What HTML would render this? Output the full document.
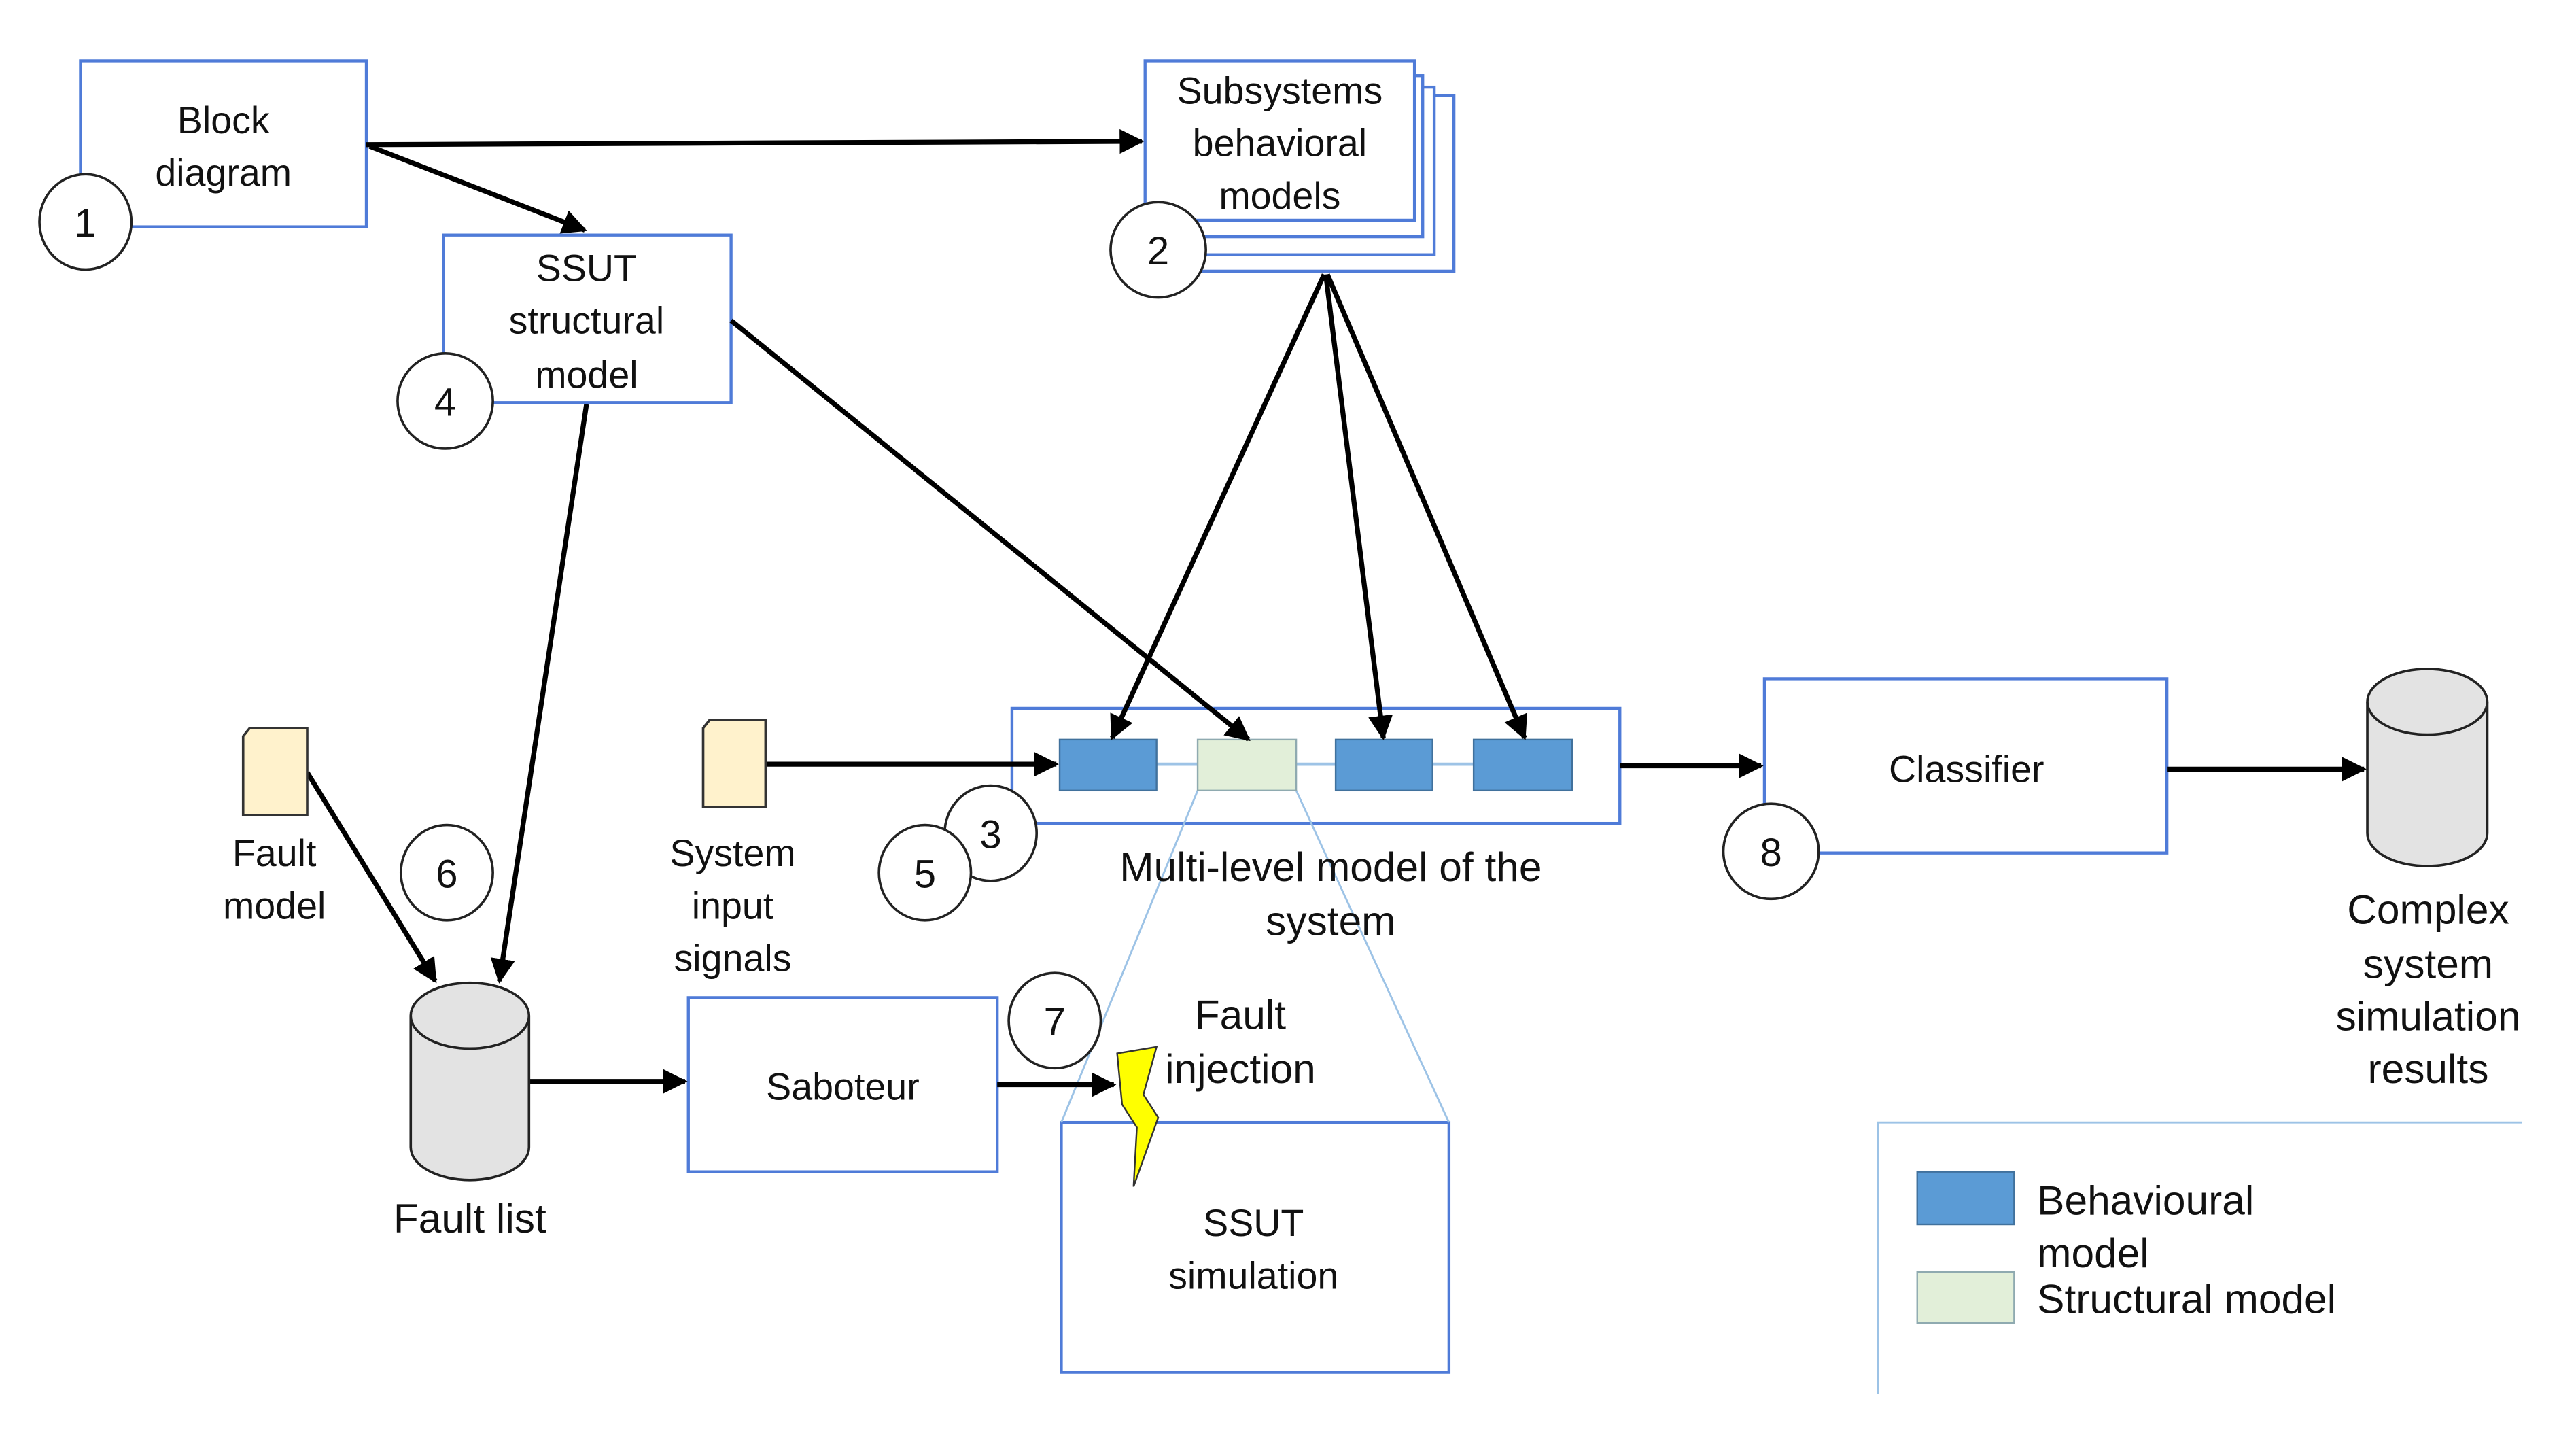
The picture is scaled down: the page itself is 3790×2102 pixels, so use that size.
<!DOCTYPE html>
<html><head><meta charset="utf-8"><style>
html,body{margin:0;padding:0;background:#fff;}
svg{display:block;}
text{font-family:"Liberation Sans",sans-serif;fill:#111;}
</style></head><body>
<svg width="3790" height="2102" viewBox="0 0 1568 869.5" preserveAspectRatio="none" xmlns="http://www.w3.org/2000/svg">
<defs>
<marker id="ah" viewBox="0 0 10 10" refX="9" refY="5" markerWidth="5" markerHeight="5" orient="auto"><path d="M0,0 L10,5 L0,10 z" fill="#000"/></marker>
</defs>
<g fill="#fff" stroke="#4f7bd8" stroke-width="1.8">
<rect x="49" y="37" width="174" height="101"/>
<rect x="721" y="58" width="164" height="107"/>
<rect x="713" y="53" width="160" height="102"/>
<rect x="705" y="46" width="161" height="98"/>
<rect x="697" y="37" width="164" height="97"/>
<rect x="270" y="143" width="175" height="102"/>
<rect x="616" y="431" width="370" height="70"/>
<rect x="1074" y="413" width="245" height="106"/>
<rect x="419" y="607" width="188" height="106"/>
<rect x="646" y="683" width="236" height="152"/>
</g>
<g stroke="#9dc3e6" stroke-width="1.2" fill="none">
<line x1="729" y1="481" x2="646" y2="683"/>
<line x1="789" y1="481" x2="882" y2="683"/>
<line x1="704" y1="465" x2="897" y2="465" stroke-width="2"/>
<polyline points="1143,848 1143,683 1535,683"/>
</g>
<g stroke="#41719c" stroke-width="1">
<rect x="645" y="450" width="59" height="31" fill="#5b9bd5"/>
<rect x="813" y="450" width="59" height="31" fill="#5b9bd5"/>
<rect x="897" y="450" width="60" height="31" fill="#5b9bd5"/>
<rect x="1167" y="713" width="59" height="32" fill="#5b9bd5"/>
</g>
<g stroke="#8faab0" stroke-width="1">
<rect x="729" y="450" width="60" height="31" fill="#e2efd9"/>
<rect x="1167" y="774" width="59" height="31" fill="#e2efd9"/>
</g>
<g stroke="#000" stroke-width="3" fill="none" marker-end="url(#ah)">
<line x1="223" y1="88" x2="695" y2="86"/>
<line x1="225" y1="89" x2="356" y2="140"/>
<line x1="445" y1="195" x2="760" y2="450"/>
<line x1="357" y1="246" x2="304" y2="597"/>
<line x1="806" y1="167" x2="677" y2="449"/>
<line x1="807" y1="167" x2="842" y2="449"/>
<line x1="808" y1="167" x2="928" y2="449"/>
<line x1="187" y1="470" x2="265" y2="597"/>
<line x1="466" y1="465" x2="643" y2="465"/>
<line x1="986" y1="466" x2="1072" y2="466"/>
<line x1="1319" y1="468" x2="1439" y2="468"/>
<line x1="322" y1="658" x2="417" y2="658"/>
<line x1="607" y1="660" x2="678" y2="660"/>
</g>
<g fill="#fff" stroke="#222" stroke-width="1.5">
<ellipse cx="52" cy="135" rx="28" ry="29"/>
<ellipse cx="705" cy="152" rx="29" ry="29"/>
<ellipse cx="271" cy="244" rx="29" ry="29"/>
<ellipse cx="272" cy="531" rx="28" ry="29"/>
<ellipse cx="603" cy="507" rx="28" ry="29"/>
<ellipse cx="563" cy="531" rx="28" ry="29"/>
<ellipse cx="642" cy="621" rx="28" ry="29"/>
<ellipse cx="1078" cy="518" rx="29" ry="29"/>
</g>
<g fill="#fff2cc" stroke="#333" stroke-width="1.5">
<path d="M152,443 L187,443 L187,496 L148,496 L148,448 Z"/>
<path d="M432,438 L466,438 L466,491 L428,491 L428,443 Z"/>
</g>
<g fill="#e3e3e3" stroke="#222" stroke-width="1.5">
<path d="M250,618 L250,698 A36,20 0 0 0 322,698 L322,618"/>
<ellipse cx="286" cy="618" rx="36" ry="20"/>
<path d="M1441,427 L1441,507 A36.5,20 0 0 0 1514,507 L1514,427"/>
<ellipse cx="1477.5" cy="427" rx="36.5" ry="20"/>
</g>
<path d="M680,641 L704,637 L696,666 L705,680 L690,722 L692,686 L683,672 Z" fill="#ffff00" stroke="#333" stroke-width="1"/>
<g font-size="23" text-anchor="middle">
<text x="136" y="81">Block</text><text x="136" y="113">diagram</text>
<text x="779" y="63">Subsystems</text><text x="779" y="95">behavioral</text><text x="779" y="127">models</text>
<text x="357" y="171">SSUT</text><text x="357" y="203">structural</text><text x="357" y="236">model</text>
<text x="52" y="144" font-size="24">1</text>
<text x="705" y="161" font-size="24">2</text>
<text x="271" y="253" font-size="24">4</text>
<text x="272" y="540" font-size="24">6</text>
<text x="603" y="516" font-size="24">3</text>
<text x="563" y="540" font-size="24">5</text>
<text x="642" y="630" font-size="24">7</text>
<text x="1078" y="527" font-size="24">8</text>
<text x="167" y="527">Fault</text><text x="167" y="559">model</text>
<text x="446" y="527">System</text><text x="446" y="559">input</text><text x="446" y="591">signals</text>
<text x="1197" y="476">Classifier</text>
<text x="513" y="669">Saboteur</text>
<text x="763" y="752">SSUT</text><text x="763" y="784">simulation</text>
</g>
<g font-size="25" text-anchor="middle">
<text x="810" y="536">Multi-level model of the</text><text x="810" y="569">system</text>
<text x="1478" y="562">Complex</text><text x="1478" y="595">system</text><text x="1478" y="627">simulation</text><text x="1478" y="659">results</text>
<text x="286" y="750">Fault list</text>
<text x="755" y="626">Fault</text><text x="755" y="659">injection</text>
</g>
<g font-size="25">
<text x="1240" y="739">Behavioural</text><text x="1240" y="771">model</text><text x="1240" y="799">Structural model</text>
</g>
</svg>
</body></html>
